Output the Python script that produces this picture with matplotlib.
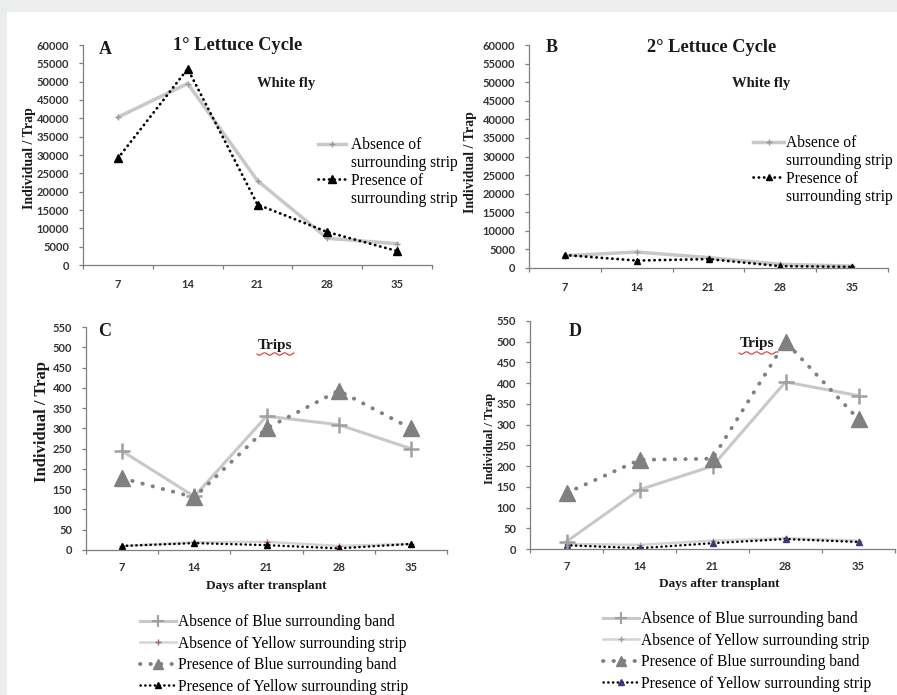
import matplotlib
matplotlib.use('Agg')
import matplotlib.pyplot as plt
from matplotlib.lines import Line2D
from matplotlib.patches import Rectangle
import numpy as np

# data
days = [7, 14, 21, 28, 35]

a_absence = [40300, 49500, 23000, 7300, 5800]
a_presence = [29100, 53500, 16500, 9000, 3800]

b_absence = [3300, 4300, 2800, 1000, 500]
b_presence = [3500, 2000, 2400, 500, 300]

c_abs_blue = [244, 132, 330, 309, 250]
c_abs_yellow = [10, 19, 20, 10, 15]
c_pre_blue = [177, 130, 300, 393, 300]
c_pre_yellow = [10, 17, 12, 4, 15]

d_abs_blue = [18, 143, 200, 403, 370]
d_abs_yellow = [12, 10, 20, 26, 20]
d_pre_blue = [135, 215, 218, 500, 313]
d_pre_yellow = [9, 2, 14, 24, 17]

wf_labels = ['Absence of', 'surrounding strip', 'Presence of', 'surrounding strip']
trips_labels = ['Absence of Blue surrounding band', 'Absence of Yellow surrounding strip',
                'Presence of Blue surrounding band', 'Presence of Yellow surrounding strip']

# style
W, H = 897, 695
SERIF = 'Liberation Serif'
SANS = 'Lato'
LIGHT = '#c8c8c8'
MID = '#808080'
AXC = '#7f7f7f'
TXT = '#1a1a1a'

fig = plt.figure(figsize=(W / 100, H / 100), dpi=100)
fig.patch.set_facecolor('#eceeee')
fig.add_artist(Rectangle((7 / W, 0), 1, 1 - 12 / H, transform=fig.transFigure,
                         facecolor='white', edgecolor='none', zorder=-10))


def fx(x):
    return x / W


def fy(y):
    return 1 - y / H


def make_ax(l, t, r, b):
    return fig.add_axes([fx(l), fy(b), (r - l) / W, (b - t) / H])


def style_ax(ax, ymax, ystep):
    ax.set_facecolor('none')
    for s in ['top', 'right']:
        ax.spines[s].set_visible(False)
    for s in ['left', 'bottom']:
        ax.spines[s].set_color(AXC)
        ax.spines[s].set_linewidth(0.9)
    ax.set_xlim(3.5, 38.5)
    ax.set_ylim(0, ymax)
    ax.set_xticks(days)
    ax.set_xticks(np.arange(3.5, 39, 7), minor=True)
    ax.set_yticks(np.arange(0, ymax + 1, ystep))
    ax.tick_params(axis='x', which='major', length=0, pad=10)
    ax.tick_params(axis='x', which='minor', length=3, color=AXC, width=0.9, direction='out')
    ax.tick_params(axis='y', length=3, color=AXC, width=0.9, direction='out', pad=7)
    for lab in ax.get_xticklabels() + ax.get_yticklabels():
        lab.set_fontfamily(SANS)
        lab.set_fontweight('bold')
        lab.set_fontsize(8)
        lab.set_color('#333333')


def txt(x, y, s, size, **kw):
    fig.text(fx(x), fy(y), s, fontsize=size, family=SERIF, fontweight='bold',
             color=TXT, ha='center', va='center', **kw)


def squiggle(x0, x1, y):
    xs = np.linspace(x0, x1, 40)
    ys = y + 1.2 * np.sin((xs - x0) / 1.6)
    fig.add_artist(Line2D(fx(xs), fy(ys), color='#e03030', lw=0.8, transform=fig.transFigure))


dot_black = (0, (0.1, 1.8))
dot_gray = (0, (0.1, 2.6))
leg_kw = dict(loc='upper left', frameon=False, borderpad=0, borderaxespad=0,
              prop={'family': SERIF, 'size': 11.2})

# ---- A ----
axA = make_ax(83, 45, 432, 265)
style_ax(axA, 60000, 5000)
axA.plot(days, a_absence, color=LIGHT, lw=2.5, marker='+', ms=4, mec='#999999', mew=1)
axA.plot(days, a_presence, color='black', lw=2, ls=dot_black, dash_capstyle='round',
         marker='^', ms=6, mfc='black', mec='black')
txt(105, 49, 'A', 13)
txt(238, 46, '1° Lettuce Cycle', 13.2)
txt(286, 83, 'White fly', 10.5)
txt(30, 158, 'Individual / Trap', 10, rotation=90)
hA = [Line2D([], [], color=LIGHT, lw=2.5, marker='+', ms=4, mec='#999999'),
      Line2D([], [], ls='none'),
      Line2D([], [], color='black', lw=2, ls=dot_black, dash_capstyle='round',
             marker='^', ms=6, mfc='black', mec='black'),
      Line2D([], [], ls='none')]
fig.legend(hA, wf_labels, bbox_to_anchor=(fx(318), fy(137)), handlelength=1.8,
           handletextpad=0.35, labelspacing=0.12, **leg_kw)

# ---- B ----
axB = make_ax(529, 45, 888, 268)
style_ax(axB, 60000, 5000)
axB.plot(days, b_absence, color=LIGHT, lw=2.5, marker='+', ms=4, mec='#999999', mew=1)
axB.plot(days, b_presence, color='black', lw=2, ls=dot_black, dash_capstyle='round',
         marker='^', ms=4.5, mfc='black', mec='black')
txt(552, 48, 'B', 13)
txt(712, 48, '2° Lettuce Cycle', 13.2)
txt(761, 83, 'White fly', 10.5)
txt(470, 162, 'Individual / Trap', 10, rotation=90)
hB = [Line2D([], [], color=LIGHT, lw=2.5, marker='+', ms=4, mec='#999999'),
      Line2D([], [], ls='none'),
      Line2D([], [], color='black', lw=2, ls=dot_black, dash_capstyle='round',
             marker='^', ms=4, mfc='black', mec='black'),
      Line2D([], [], ls='none')]
fig.legend(hB, wf_labels, bbox_to_anchor=(fx(753), fy(135)), handlelength=2.0,
           handletextpad=0.15, labelspacing=0.12, **leg_kw)


# ---- C and D ----
def trips_panel(ax, abs_blue, abs_yellow, pre_blue, pre_yellow, yel_mark, yel_tri):
    style_ax(ax, 550, 50)
    ax.plot(days, abs_yellow, color='#d4d4d4', lw=1.8, marker='+', ms=4, mec=yel_mark, mew=1)
    ax.plot(days, pre_yellow, color='black', lw=1.8, ls=dot_black, dash_capstyle='round',
            marker='^', ms=4, mfc=yel_tri, mec=yel_tri)
    ax.plot(days, abs_blue, color=LIGHT, lw=2.2, marker='+', ms=11, mec='#a0a0a0', mew=1.8)
    ax.plot(days, pre_blue, color=MID, lw=2.8, ls=dot_gray, dash_capstyle='round',
            marker='^', ms=11, mfc=MID, mec=MID)
    ax.tick_params(axis='x', which='major', pad=8.4)
    handles = [Line2D([], [], color=LIGHT, lw=2.2, marker='+', ms=8, mec='#a0a0a0', mew=1.5),
               Line2D([], [], color='#d4d4d4', lw=1.8, marker='+', ms=4, mec=yel_mark, mew=1),
               Line2D([], [], color=MID, lw=2.8, ls=dot_gray, dash_capstyle='round',
                      marker='^', ms=7, mfc=MID, mec=MID),
               Line2D([], [], color='black', lw=1.8, ls=dot_black, dash_capstyle='round',
                      marker='^', ms=4, mfc=yel_tri, mec=yel_tri)]
    return handles


axC = make_ax(86, 327, 447, 550)
hC = trips_panel(axC, c_abs_blue, c_abs_yellow, c_pre_blue, c_pre_yellow, '#b06070', 'black')
txt(105, 332, 'C', 13)
txt(275, 345, 'Trips', 11)
squiggle(257, 294, 354)
txt(42, 422, 'Individual / Trap', 12, rotation=90)
txt(266, 586, 'Days after transplant', 9.5)
fig.legend(hC, trips_labels, bbox_to_anchor=(fx(140), fy(614)), handlelength=2.3,
           handletextpad=0.15, labelspacing=0.36, **leg_kw)

axD = make_ax(530, 321, 895, 549)
hD = trips_panel(axD, d_abs_blue, d_abs_yellow, d_pre_blue, d_pre_yellow, '#a0a0a0', '#3a3a7a')
txt(575, 332, 'D', 13)
txt(757, 344, 'Trips', 11)
squiggle(739, 778, 353)
txt(490, 438, 'Individual / Trap', 9, rotation=90)
txt(719, 584, 'Days after transplant', 9.5)
fig.legend(hD, trips_labels, bbox_to_anchor=(fx(603), fy(611)), handlelength=2.3,
           handletextpad=0.15, labelspacing=0.36, **leg_kw)

fig.savefig('out.png', dpi=100, facecolor=fig.get_facecolor())
